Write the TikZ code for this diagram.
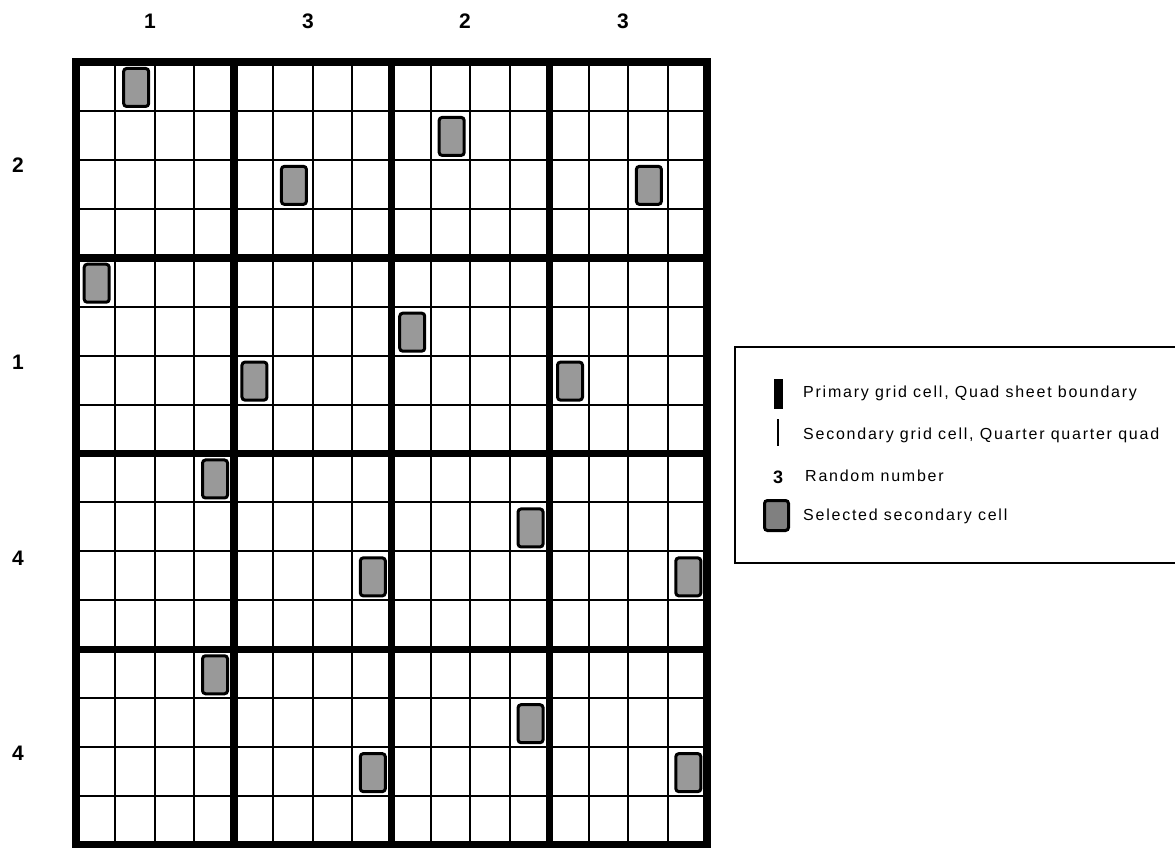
\documentclass[tikz,border=0pt]{standalone}
\usepackage{fontspec}
\setmainfont{Liberation Sans}
\begin{document}
\begin{tikzpicture}[x=1pt,y=-1pt,
  thingrid/.style={line width=2pt},
  thickgrid/.style={line width=7.5pt, line cap=rect},
  selected/.style={draw, line width=3pt, rounded corners=3pt, fill=black!40, minimum width=25pt, minimum height=38pt, inner sep=0pt},
  number/.style={font=\fontsize{21}{21}\selectfont\bfseries},
  legendtext/.style={font=\fontsize{16}{18}\selectfont\addfontfeature{LetterSpace=11}, anchor=west, inner sep=0pt}]

\useasboundingbox (0,0) rectangle (1175,848);
\def\cw{39.44}
\def\rh{48.94}

% secondary grid
\foreach \i in {0,...,16} {
  \draw[thingrid] (76+\i*\cw,62) -- (76+\i*\cw,845);
  \draw[thingrid] (76,62+\i*\rh) -- (707,62+\i*\rh);
}
% primary grid
\foreach \i in {0,4,8,12,16} {
  \draw[thickgrid] (76+\i*\cw,62) -- (76+\i*\cw,845);
  \draw[thickgrid] (76,62+\i*\rh) -- (707,62+\i*\rh);
}

% selected secondary cells
\foreach \c/\r [count=\n] in {1/0,9/1,5/2,14/2,0/4,8/5,4/6,12/6,3/8,11/9,7/10,15/10,3/12,11/13,7/14,15/14}
  \node (cell\n) [selected] at (77+\c*\cw+0.5*\cw,63+\r*\rh+0.5*\rh) {};

% random numbers
\foreach \v/\x [count=\n] in {1/150,3/308,2/465,3/623}
  \node (col\n) [number] at (\x,21) {\v};
\foreach \v/\y [count=\n] in {2/165,1/362,4/558,4/753}
  \node (row\n) [number] at (18,\y) {\v};

% legend
\draw[line width=1.5pt] (1176,347) -- (735,347) -- (735,563) -- (1176,563);
\node (legprimary) [fill=black, minimum width=9pt, minimum height=30pt, inner sep=0pt] at (778,394) {};
\node (legsecondary) [fill=black, minimum width=2pt, minimum height=27pt, inner sep=0pt] at (778,432.5) {};
\node (legnumber) [number, font=\fontsize{18}{18}\selectfont\bfseries] at (778,477) {3};
\node (legcell) [selected, fill=black!50, minimum width=24pt, minimum height=30pt] at (776.5,515.5) {};
\node (txtprimary) [legendtext] at (803,393) {Primary grid cell, Quad sheet boundary};
\node (txtsecondary) [legendtext] at (803,435) {Secondary grid cell, Quarter quarter quad};
\node (txtnumber) [legendtext] at (805,476) {Random number};
\node (txtcell) [legendtext] at (803,516) {Selected secondary cell};

\end{tikzpicture}
\end{document}
